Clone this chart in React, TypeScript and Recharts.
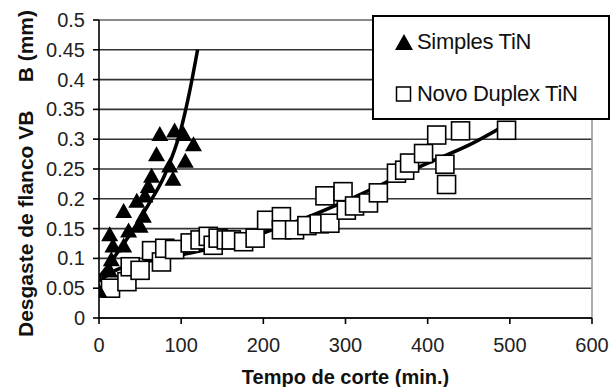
import React from "react";
import {
  ComposedChart,
  Scatter,
  Line,
  XAxis,
  YAxis,
  CartesianGrid,
  ReferenceLine,
} from "recharts";

// Simples TiN (triangles)
const simplesTime = [0, 13, 15, 17, 30, 13, 36, 30, 50, 54, 46, 56, 60, 64, 70, 86, 90, 105, 74, 92, 103, 115];
const simplesWear = [0.044, 0.078, 0.097, 0.12, 0.12, 0.139, 0.145, 0.178, 0.153, 0.17, 0.195, 0.204, 0.22, 0.237, 0.273, 0.254, 0.232, 0.262, 0.307, 0.313, 0.307, 0.29];

// Novo Duplex TiN (squares)
const duplexTime = [14, 34, 38, 50, 64, 76, 80, 92, 111, 123, 133, 139, 145, 155, 161, 176, 190, 204, 222, 222, 238, 253, 268, 281, 275, 297, 301, 311, 328, 340, 362, 372, 378, 395, 411, 421, 423, 440, 496];
const duplexWear = [0.05, 0.061, 0.086, 0.08, 0.113, 0.094, 0.117, 0.115, 0.126, 0.131, 0.137, 0.122, 0.134, 0.131, 0.131, 0.128, 0.134, 0.164, 0.17, 0.148, 0.148, 0.155, 0.158, 0.159, 0.205, 0.212, 0.181, 0.188, 0.193, 0.21, 0.243, 0.248, 0.26, 0.276, 0.307, 0.258, 0.224, 0.314, 0.315];

// Trend lines
const simplesTrendTime = [0, 20, 40, 60, 80, 100, 110, 120];
const simplesTrendWear = [0.068, 0.105, 0.145, 0.19, 0.24, 0.318, 0.378, 0.45];
const duplexTrendTime = [0, 20, 50, 100, 150, 200, 250, 300, 350, 400, 450, 500];
const duplexTrendWear = [0.062, 0.08, 0.092, 0.106, 0.121, 0.143, 0.167, 0.196, 0.228, 0.26, 0.29, 0.328];

const xTicks = [0, 100, 200, 300, 400, 500, 600];
const yTicks = [0, 0.05, 0.1, 0.15, 0.2, 0.25, 0.3, 0.35, 0.4, 0.45, 0.5];
const yTickLabels = ["0", "0.05", "0.1", "0.15", "0.2", "0.25", "0.3", "0.35", "0.4", "0.45", "0.5"];

const xTitle = "Tempo de corte (min.)";
const yTitleMain = "Desgaste de flanco VB";
const yTitleUnit = "B (mm)";
const seriesNames = ["Simples TiN", "Novo Duplex TiN"];

const zip = (ts: number[], vs: number[]) => ts.map((t, i) => ({ t, v: vs[i] }));
const simplesData = zip(simplesTime, simplesWear);
const duplexData = zip(duplexTime, duplexWear);
const simplesTrend = zip(simplesTrendTime, simplesTrendWear);
const duplexTrend = zip(duplexTrendTime, duplexTrendWear);

const FONT = "'Liberation Sans', Arial, sans-serif";

const Triangle = (props: any) => {
  const { cx, cy } = props;
  if (cx == null || cy == null) return null;
  const w = 17;
  const h = 15;
  return (
    <polygon
      points={`${cx},${cy - h * 0.6} ${cx - w / 2},${cy + h * 0.4} ${cx + w / 2},${cy + h * 0.4}`}
      fill="#000"
    />
  );
};

const Square = (props: any) => {
  const { cx, cy } = props;
  if (cx == null || cy == null) return null;
  const s = 18;
  return <rect x={cx - s / 2} y={cy - s / 2} width={s} height={s} fill="#fff" stroke="#000" strokeWidth={1.6} />;
};

const YTick = (props: any) => {
  const { x, y, payload } = props;
  const i = yTicks.indexOf(payload.value);
  return (
    <text x={x} y={y} dx={-6} dy={7} textAnchor="end" fontSize={20} fontFamily={FONT} fill="#222">
      {i >= 0 ? yTickLabels[i] : String(payload.value)}
    </text>
  );
};

const XTick = (props: any) => {
  const { x, y, payload } = props;
  return (
    <text x={x} y={y} dy={26} textAnchor="middle" fontSize={20} fontFamily={FONT} fill="#222">
      {String(payload.value)}
    </text>
  );
};

const YTitle = () => (
  <g>
    <text
      x={33}
      y={337}
      transform="rotate(-90 33 337)"
      textAnchor="start"
      fontSize={21}
      fontWeight="bold"
      fontFamily={FONT}
      fill="#111"
    >
      {yTitleMain}
    </text>
    <text
      x={33}
      y={10}
      transform="rotate(-90 33 10)"
      textAnchor="end"
      fontSize={21}
      fontWeight="bold"
      fontFamily={FONT}
      fill="#111"
    >
      {yTitleUnit}
    </text>
  </g>
);

export default function App() {
  return (
    <div style={{ position: "absolute", left: 0, top: 0, width: 614, height: 387, background: "#fff" }}>
      <ComposedChart
        width={614}
        height={387}
        margin={{ top: 20, right: 22, bottom: 0, left: 0 }}
        style={{ fontFamily: FONT }}
      >
        <CartesianGrid horizontal vertical={false} stroke="#333" strokeWidth={1.6} />
        <XAxis
          type="number"
          dataKey="t"
          domain={[0, 600]}
          ticks={xTicks}
          height={69}
          stroke="#000"
          strokeWidth={1.6}
          tickSize={6}
          tick={<XTick />}
          allowDataOverflow
          label={{
            value: xTitle,
            position: "insideBottom",
            offset: 3,
            fontSize: 20,
            fontWeight: "bold",
            fill: "#111",
            fontFamily: FONT,
          }}
        />
        <YAxis
          type="number"
          dataKey="v"
          domain={[0, 0.5]}
          ticks={yTicks}
          width={99}
          stroke="#000"
          strokeWidth={1.6}
          tickSize={6}
          tick={<YTick />}
          allowDataOverflow
          label={<YTitle />}
        />
        <ReferenceLine y={0.5} stroke="#999" strokeWidth={1.6} />
        <ReferenceLine x={600} stroke="#999" strokeWidth={1.6} />
        <Scatter name={seriesNames[1]} data={duplexData} dataKey="v" shape={<Square />} isAnimationActive={false} />
        <Scatter name={seriesNames[0]} data={simplesData} dataKey="v" shape={<Triangle />} isAnimationActive={false} />
        <Line
          data={duplexTrend}
          dataKey="v"
          type="monotone"
          stroke="#000"
          strokeWidth={3.5}
          dot={false}
          activeDot={false}
          isAnimationActive={false}
        />
        <Line
          data={simplesTrend}
          dataKey="v"
          type="monotone"
          stroke="#000"
          strokeWidth={3.5}
          dot={false}
          activeDot={false}
          isAnimationActive={false}
        />
      </ComposedChart>
      <div
        style={{
          position: "absolute",
          left: 372,
          top: 15,
          width: 238,
          height: 105,
          boxSizing: "border-box",
          border: "2px solid #000",
          background: "#fff",
          fontFamily: FONT,
          fontSize: 22,
          color: "#111",
        }}
      >
        <div style={{ position: "absolute", left: 20, top: 12, display: "flex", alignItems: "center" }}>
          <svg width={20} height={20} style={{ marginRight: 3 }}>
            <polygon points="10,2 1,18 19,18" fill="#000" />
          </svg>
          <span style={{ letterSpacing: -0.3 }}>{seriesNames[0]}</span>
        </div>
        <div style={{ position: "absolute", left: 20, top: 64, display: "flex", alignItems: "center" }}>
          <svg width={20} height={20} style={{ marginRight: 3 }}>
            <rect x={2.5} y={3} width={14} height={14} fill="#fff" stroke="#000" strokeWidth={1.5} />
          </svg>
          <span style={{ letterSpacing: -0.3 }}>{seriesNames[1]}</span>
        </div>
      </div>
    </div>
  );
}
